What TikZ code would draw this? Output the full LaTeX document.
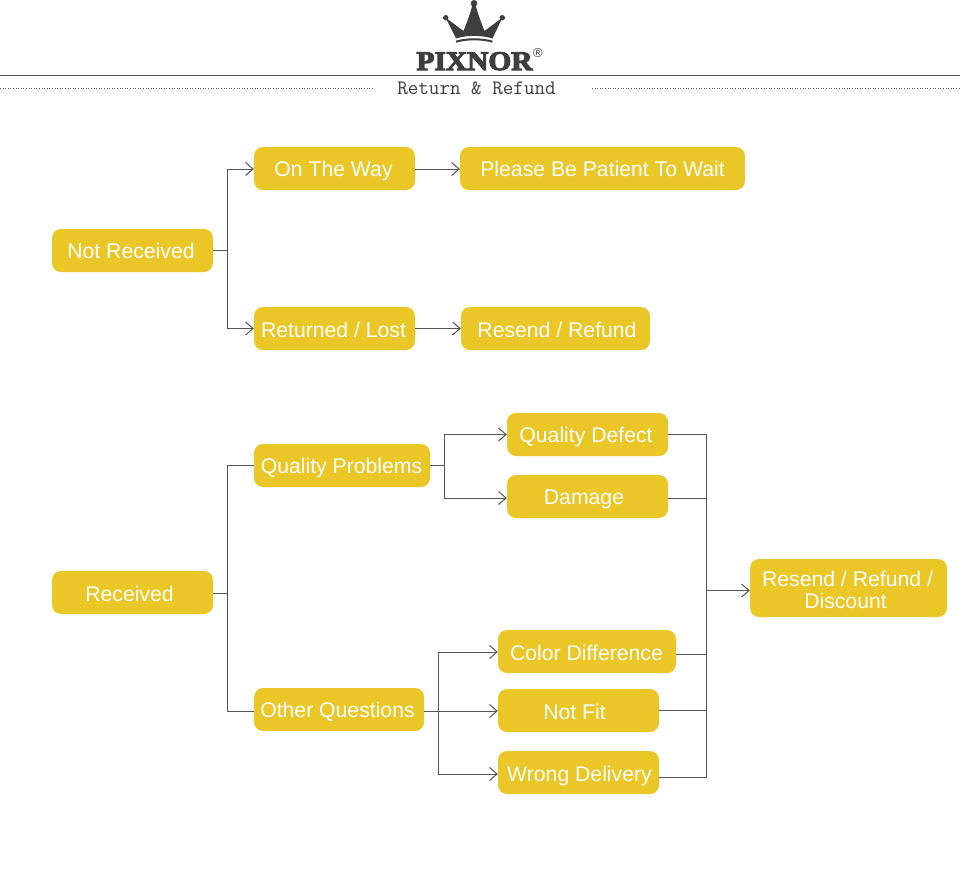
\documentclass[tikz,border=0pt]{standalone}
\usepackage{fontspec}
\setmainfont{Liberation Sans}
\newfontfamily\logofont[FakeBold=4]{Liberation Serif Bold}
\newfontfamily\subfont{Latin Modern Mono}
\usetikzlibrary{arrows.meta,calc}
\definecolor{boxy}{RGB}{234,198,38}
\definecolor{linegr}{RGB}{85,85,85}
\definecolor{logogr}{RGB}{62,62,62}
\tikzset{
  box/.style={fill=boxy,rounded corners=9pt,inner sep=0pt,text=white,align=center,
    font=\fontsize{21.2}{22}\selectfont},
  conn/.style={draw=linegr,line width=1pt},
  arr/.style={conn,-{Straight Barb[length=7.5pt,width=13pt,line width=1pt]}},
  logotext/.style={text=logogr,inner sep=0pt}
}
\newcommand{\bx}[6]{\node[box,minimum width=#3pt-#2pt,minimum height=#5pt-#4pt] (#1) at ({(#2+#3)/2},{(#4+#5)/2}) {#6};}
\newcommand{\stx}[2]{\hspace*{#1pt}\rule[-5pt]{0pt}{25pt}#2\hspace*{-#1pt}}
\newcommand{\stl}[2]{\hspace*{#1pt}\rule[-5pt]{0pt}{27pt}#2\hspace*{-#1pt}}
\begin{document}
\begin{tikzpicture}[x=1pt,y=-1pt]
\useasboundingbox (0,0) rectangle (960,879);
% header
\fill[logogr] (445.7,17.7) -- (463.5,31) .. controls (467,22) and (471,12) .. (472.5,4) -- (475.5,4) .. controls (477,12) and (481,22) .. (484.5,31) -- (502.3,17.7) -- (492.5,38.5) .. controls (482,35) and (466,35) .. (456,38.5) -- cycle;
\fill[logogr] (474,3.3) circle (3.3) (445.7,17.7) circle (2.7) (502.3,17.7) circle (2.7);
\draw[logogr,line width=2pt] (456,41.7) .. controls (466,38.5) and (482,38.5) .. (492.5,41.7);
\node[logotext,xscale=1.09,font=\logofont\fontsize{27}{27}\selectfont,anchor=base] (logo) at (474.5,70) {PIXNOR};
\node[logotext,font=\fontsize{13}{13}\selectfont] (reg) at (538,53.5) {®};
\node[logotext,font=\subfont\fontsize{20.5}{20.5}\selectfont] (sub) at (476.5,88.5) {Return \& Refund};
\coordinate (ruleL) at (0,75.5); \coordinate (ruleR) at (960,75.5);
\draw[linegr,line width=1pt] (ruleL) -- (ruleR);
\coordinate (dotA) at (0,88); \coordinate (dotB) at (372,88);
\coordinate (dotC) at (592,88); \coordinate (dotD) at (960,88);
\draw[linegr,line width=1pt,dash pattern=on 1pt off 1.6pt] (dotA) -- (dotB) (dotC) -- (dotD);
% boxes
\bx{nr}{52}{213}{229}{272}{\stx{-1.5}{Not Received}}
\bx{otw}{254}{415}{147}{190}{\stx{-1}{On The Way}}
\bx{wait}{460}{745}{147}{190}{\stx{0}{Please Be Patient To Wait}}
\bx{rl}{254}{415}{307}{350}{\stl{-1}{Returned / Lost}}
\bx{rr}{461}{650}{307}{350}{\stl{1.5}{Resend / Refund}}
\bx{rc}{52}{213}{571}{614}{\stl{-3}{Received}}
\bx{qp}{254}{430}{444}{487}{\stx{-0.5}{Quality Problems}}
\bx{qd}{507}{668}{413}{456}{\stx{-1.5}{Quality Defect}}
\bx{dm}{507}{668}{475}{518}{\stx{-3.5}{Damage}}
\bx{oq}{254}{424}{688}{731}{\stx{-1.5}{Other Questions}}
\bx{cd}{498}{676}{630}{673}{\stl{-0.5}{Color Difference}}
\bx{nf}{498}{659}{689}{732}{\stl{-4}{Not Fit}}
\bx{wd}{498}{659}{751}{794}{\stl{1}{Wrong Delivery}}
\bx{rrd}{750}{947}{559}{617}{\hspace*{-1pt}\rule{0pt}{18.4pt}Resend / Refund /\hspace*{1pt}\\\hspace*{-3pt}Discount\hspace*{3pt}}
% buses
\coordinate (b1) at (227.5,250.5);
\coordinate (b2) at (227.5,593);
\coordinate (b3) at (444,465.5);
\coordinate (b4) at (438.5,711);
\coordinate (b5) at (706,590.5);
% connectors
\draw[conn] (nr.east) -- (b1);
\draw[arr] (b1) |- ([yshift=-0.5pt]otw.west);
\draw[arr] (b1) |- (rl.west);
\draw[arr] ([yshift=-0.5pt]otw.east) -- ([yshift=-0.5pt]wait.west);
\draw[arr] (rl.east) -- (rr.west);
\draw[conn] (rc.east |- b2) -- (b2);
\draw[conn] (b2) |- (qp.west);
\draw[conn] (b2) |- ([yshift=-1.5pt]oq.west);
\draw[conn] (qp.east) -- (b3);
\draw[arr] (b3) |- (qd.west);
\draw[arr] (b3) |- ([yshift=-1.5pt]dm.west);
\draw[arr] (oq.east |- b4) -- (nf.west |- b4);
\draw[arr] (b4) |- ([yshift=-0.5pt]cd.west);
\draw[arr] (b4) |- ([yshift=-1.5pt]wd.west);
\draw[conn] (qd.east) -| (b5);
\draw[conn] ([yshift=-1.5pt]dm.east) -| (b5);
\draw[conn] ([yshift=-2.5pt]cd.east) -| (b5);
\draw[conn] (nf.east) -| (b5);
\draw[conn] ([yshift=-5pt]wd.east) -| (b5);
\draw[arr] (b5) -- (b5 -| rrd.west);
\end{tikzpicture}
\end{document}
